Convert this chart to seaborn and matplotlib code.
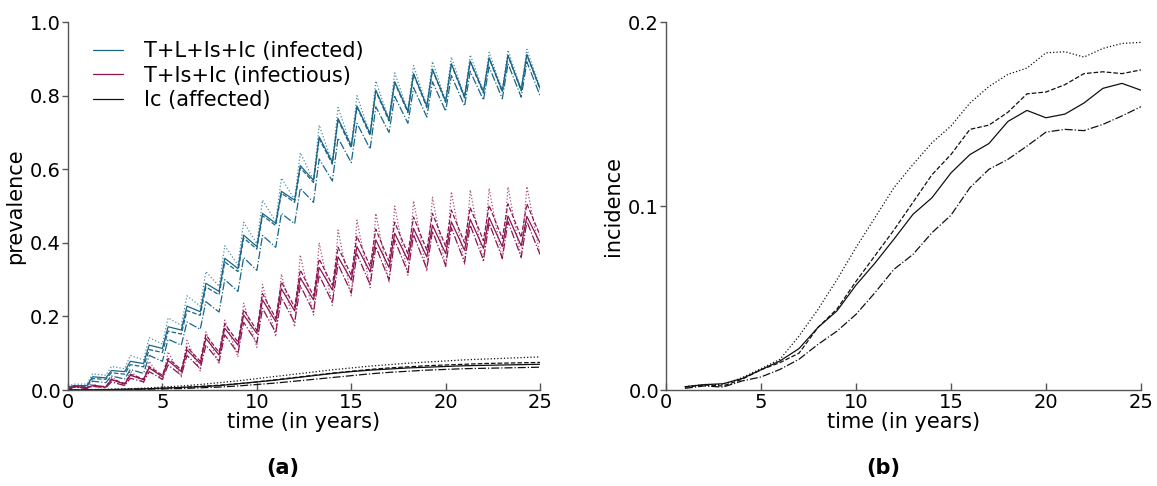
import matplotlib
matplotlib.use("Agg")
import matplotlib.pyplot as plt
import seaborn as sns

# ---------------------------------------------------------------------------
# Prevalence: each seasonal series is stored as its yearly low (start of the
# year, 26 values for years 0..25) and its yearly high (25 values, years 0..24)
# ---------------------------------------------------------------------------
infected_median_low = [0.008, 0.012, 0.033, 0.050, 0.072, 0.113, 0.163, 0.213, 0.268, 0.330,
                       0.390, 0.453, 0.516, 0.570, 0.619, 0.664, 0.697, 0.736, 0.758, 0.772,
                       0.785, 0.797, 0.811, 0.813, 0.816, 0.820]
infected_median_high = [0.012, 0.036, 0.053, 0.078, 0.122, 0.172, 0.228, 0.290, 0.358, 0.421,
                        0.480, 0.540, 0.610, 0.688, 0.738, 0.772, 0.815, 0.838, 0.860, 0.872,
                        0.887, 0.894, 0.903, 0.910, 0.912]
infected_mean_low = [0.006, 0.010, 0.029, 0.043, 0.063, 0.102, 0.152, 0.203, 0.259, 0.322,
                     0.383, 0.447, 0.510, 0.564, 0.614, 0.658, 0.692, 0.731, 0.754, 0.768,
                     0.782, 0.794, 0.807, 0.810, 0.813, 0.817]
infected_mean_high = [0.010, 0.031, 0.047, 0.069, 0.110, 0.160, 0.216, 0.280, 0.348, 0.413,
                      0.474, 0.535, 0.604, 0.683, 0.734, 0.769, 0.812, 0.835, 0.858, 0.870,
                      0.885, 0.892, 0.901, 0.908, 0.910]
infected_upper_low = [0.010, 0.016, 0.040, 0.058, 0.082, 0.125, 0.176, 0.228, 0.282, 0.340,
                      0.398, 0.458, 0.518, 0.570, 0.618, 0.662, 0.695, 0.735, 0.758, 0.772,
                      0.786, 0.798, 0.812, 0.815, 0.818, 0.822]
infected_upper_high = [0.016, 0.044, 0.064, 0.094, 0.142, 0.196, 0.256, 0.322, 0.392, 0.456,
                       0.516, 0.576, 0.645, 0.720, 0.768, 0.800, 0.840, 0.862, 0.882, 0.893,
                       0.905, 0.911, 0.918, 0.924, 0.926]
infected_lower_low = [0.004, 0.006, 0.020, 0.030, 0.045, 0.078, 0.122, 0.165, 0.212, 0.268,
                      0.325, 0.388, 0.452, 0.510, 0.568, 0.618, 0.655, 0.700, 0.725, 0.742,
                      0.758, 0.772, 0.788, 0.792, 0.796, 0.800]
infected_lower_high = [0.008, 0.024, 0.038, 0.056, 0.094, 0.138, 0.185, 0.240, 0.300, 0.360,
                       0.420, 0.480, 0.548, 0.628, 0.685, 0.725, 0.770, 0.798, 0.822, 0.838,
                       0.855, 0.866, 0.878, 0.887, 0.892]

infectious_median_low = [0.000, 0.006, 0.008, 0.016, 0.028, 0.036, 0.050, 0.072, 0.095, 0.122,
                         0.154, 0.186, 0.215, 0.245, 0.272, 0.299, 0.321, 0.333, 0.353, 0.362,
                         0.371, 0.380, 0.385, 0.390, 0.392, 0.400]
infectious_median_high = [0.010, 0.012, 0.028, 0.040, 0.060, 0.080, 0.109, 0.140, 0.168, 0.204,
                          0.245, 0.275, 0.305, 0.333, 0.362, 0.390, 0.408, 0.426, 0.439, 0.448,
                          0.457, 0.464, 0.469, 0.473, 0.472]
infectious_mean_low = [0.000, 0.006, 0.009, 0.018, 0.030, 0.040, 0.055, 0.078, 0.102, 0.130,
                       0.162, 0.195, 0.225, 0.256, 0.285, 0.312, 0.336, 0.350, 0.370, 0.380,
                       0.390, 0.400, 0.406, 0.412, 0.415, 0.420]
infectious_mean_high = [0.010, 0.013, 0.030, 0.043, 0.064, 0.086, 0.117, 0.150, 0.180, 0.218,
                        0.262, 0.294, 0.326, 0.356, 0.388, 0.418, 0.437, 0.456, 0.470, 0.480,
                        0.489, 0.496, 0.502, 0.506, 0.506]
infectious_upper_low = [0.000, 0.004, 0.006, 0.012, 0.020, 0.026, 0.036, 0.052, 0.070, 0.090,
                        0.116, 0.145, 0.172, 0.204, 0.230, 0.256, 0.278, 0.292, 0.312, 0.322,
                        0.332, 0.342, 0.348, 0.354, 0.357, 0.365]
infectious_upper_high = [0.012, 0.016, 0.035, 0.052, 0.078, 0.104, 0.135, 0.158, 0.190, 0.236,
                         0.287, 0.315, 0.367, 0.400, 0.435, 0.462, 0.480, 0.500, 0.514, 0.524,
                         0.539, 0.544, 0.548, 0.552, 0.553]
infectious_lower_low = [0.000, 0.004, 0.006, 0.012, 0.022, 0.029, 0.040, 0.058, 0.078, 0.100,
                        0.128, 0.156, 0.183, 0.212, 0.238, 0.264, 0.286, 0.299, 0.319, 0.329,
                        0.338, 0.347, 0.353, 0.358, 0.361, 0.368]
infectious_lower_high = [0.008, 0.010, 0.022, 0.032, 0.050, 0.068, 0.094, 0.122, 0.150, 0.184,
                         0.222, 0.252, 0.284, 0.312, 0.342, 0.370, 0.390, 0.408, 0.422, 0.432,
                         0.441, 0.448, 0.454, 0.458, 0.458]

# Affected (Ic) prevalence, one value per year 0..25
affected_years = list(range(0, 26))
affected_median = [0.000, 0.0005, 0.001, 0.002, 0.003, 0.005, 0.007, 0.009, 0.012, 0.017,
                   0.022, 0.027, 0.033, 0.039, 0.045, 0.050, 0.054, 0.057, 0.060, 0.062,
                   0.064, 0.066, 0.067, 0.068, 0.069, 0.070]
affected_mean = [0.000, 0.0005, 0.001, 0.002, 0.003, 0.005, 0.007, 0.010, 0.013, 0.017,
                 0.022, 0.028, 0.034, 0.040, 0.046, 0.051, 0.056, 0.060, 0.063, 0.066,
                 0.068, 0.070, 0.072, 0.073, 0.074, 0.075]
affected_upper = [0.000, 0.001, 0.002, 0.003, 0.005, 0.008, 0.011, 0.015, 0.020, 0.025,
                  0.031, 0.037, 0.043, 0.049, 0.055, 0.060, 0.065, 0.069, 0.073, 0.076,
                  0.079, 0.082, 0.084, 0.086, 0.088, 0.090]
affected_lower = [0.000, 0.000, 0.0005, 0.001, 0.002, 0.003, 0.004, 0.006, 0.008, 0.011,
                  0.015, 0.019, 0.024, 0.029, 0.034, 0.039, 0.044, 0.048, 0.051, 0.054,
                  0.056, 0.058, 0.059, 0.060, 0.061, 0.062]

# Incidence, one value per year 1..25
incidence_years = list(range(1, 26))
incidence_median = [0.0018, 0.0029, 0.0034, 0.0062, 0.0110, 0.0158, 0.0225, 0.0340, 0.0430, 0.0570,
                    0.0690, 0.0820, 0.0955, 0.1045, 0.1180, 0.1280, 0.1340, 0.1460, 0.1520, 0.1480,
                    0.1500, 0.1560, 0.1640, 0.1667, 0.1630]
incidence_mean = [0.0015, 0.0027, 0.0022, 0.0058, 0.0110, 0.0149, 0.0200, 0.0340, 0.0440, 0.0590,
                  0.0730, 0.0870, 0.1020, 0.1170, 0.1280, 0.1417, 0.1440, 0.1510, 0.1610, 0.1620,
                  0.1660, 0.1720, 0.1730, 0.1720, 0.1740]
incidence_upper = [0.0018, 0.0030, 0.0030, 0.0067, 0.0116, 0.0167, 0.0293, 0.0438, 0.0600, 0.0774,
                   0.0937, 0.1100, 0.1226, 0.1344, 0.1435, 0.1560, 0.1650, 0.1716, 0.1750, 0.1833,
                   0.1839, 0.1810, 0.1857, 0.1884, 0.1890]
incidence_lower = [0.0009, 0.0022, 0.0016, 0.0049, 0.0071, 0.0112, 0.0167, 0.0248, 0.0320, 0.0411,
                   0.0529, 0.0656, 0.0737, 0.0855, 0.0950, 0.1100, 0.1200, 0.1254, 0.1326, 0.1402,
                   0.1417, 0.1410, 0.1444, 0.1490, 0.1540]

group_labels = ["T+L+Is+Ic (infected)", "T+Is+Ic (infectious)", "Ic (affected)"]
tick_years = [0, 5, 10, 15, 20, 25]

BLUE = "#1a6688"
CRIMSON = "#8c1550"
BLACK = "#111111"
RISE = 0.3  # fraction of a year from the seasonal low to the seasonal high


def seasonal_path(lows, highs):
    """Join yearly lows and highs into one time/value path."""
    t, v = [], []
    for year, (lo, hi) in enumerate(zip(lows[:-1], highs)):
        t += [year, year + RISE]
        v += [lo, hi]
    t.append(len(lows) - 1)
    v.append(lows[-1])
    return t, v


sns.set_style("ticks")
plt.rcParams["font.family"] = ["DejaVu Sans"]
plt.rcParams["text.color"] = "black"
plt.rcParams["axes.labelcolor"] = "black"
plt.rcParams["xtick.labelcolor"] = "black"
plt.rcParams["ytick.labelcolor"] = "black"

fig = plt.figure(figsize=(11.57, 4.86), dpi=100)
ax_a = fig.add_axes([0.0588, 0.1975, 0.408, 0.757])
ax_b = fig.add_axes([0.5756, 0.1975, 0.4105, 0.757])

styles = [("median", "-"), ("mean", "--"), ("upper", ":"), ("lower", "-.")]
LW = 0.9

seasonal_groups = [
    (BLUE, group_labels[0], {
        "median": (infected_median_low, infected_median_high),
        "mean": (infected_mean_low, infected_mean_high),
        "upper": (infected_upper_low, infected_upper_high),
        "lower": (infected_lower_low, infected_lower_high)}),
    (CRIMSON, group_labels[1], {
        "median": (infectious_median_low, infectious_median_high),
        "mean": (infectious_mean_low, infectious_mean_high),
        "upper": (infectious_upper_low, infectious_upper_high),
        "lower": (infectious_lower_low, infectious_lower_high)}),
]

for color, label, series in seasonal_groups:
    for key, ls in styles:
        t, v = seasonal_path(*series[key])
        sns.lineplot(x=t, y=v, ax=ax_a, color=color, linestyle=ls, linewidth=LW,
                     label=label if key == "median" else None, sort=False,
                     alpha=0.75 if ls == ":" else 1.0)

affected = {"median": affected_median, "mean": affected_mean,
            "upper": affected_upper, "lower": affected_lower}
for key, ls in styles:
    sns.lineplot(x=affected_years, y=affected[key], ax=ax_a, color=BLACK, linestyle=ls,
                 linewidth=LW, label=group_labels[2] if key == "median" else None)

incidence = {"median": incidence_median, "mean": incidence_mean,
             "upper": incidence_upper, "lower": incidence_lower}
for key, ls in styles:
    sns.lineplot(x=incidence_years, y=incidence[key], ax=ax_b, color=BLACK, linestyle=ls,
                 linewidth=LW, legend=False)

ax_a.legend(loc="upper left", bbox_to_anchor=(0.035, 0.97), frameon=False, fontsize=15,
            handlelength=1.45, handletextpad=1.0, labelspacing=0.2, borderaxespad=0.0)

for ax, ylabel, ylim, yticks in [
        (ax_a, "prevalence", (0, 1.0), [0.0, 0.2, 0.4, 0.6, 0.8, 1.0]),
        (ax_b, "incidence", (0, 0.2), [0.0, 0.1, 0.2])]:
    ax.set_xlim(0, 25)
    ax.set_ylim(*ylim)
    ax.set_xticks(tick_years)
    ax.set_yticks(yticks)
    ax.set_yticklabels([f"{y:.1f}" for y in yticks])
    ax.set_xlabel("time (in years)", fontsize=15, labelpad=0)
    ax.set_ylabel(ylabel, fontsize=15, labelpad=4)
    for side in ("top", "right"):
        ax.spines[side].set_visible(False)
    for side in ("left", "bottom"):
        ax.spines[side].set_color("#555555")
        ax.spines[side].set_linewidth(1.0)
    ax.tick_params(axis="x", direction="in", length=5, width=1, color="#555555",
                   labelsize=14, pad=2)
    ax.tick_params(axis="y", direction="out", length=4, width=1, color="#555555",
                   labelsize=14, pad=1)

fig.text(0.2446, 0.037, "(a)", ha="center", va="center", fontsize=15, fontweight="bold")
fig.text(0.763, 0.037, "(b)", ha="center", va="center", fontsize=15, fontweight="bold")

fig.savefig("out.png", dpi=100)
